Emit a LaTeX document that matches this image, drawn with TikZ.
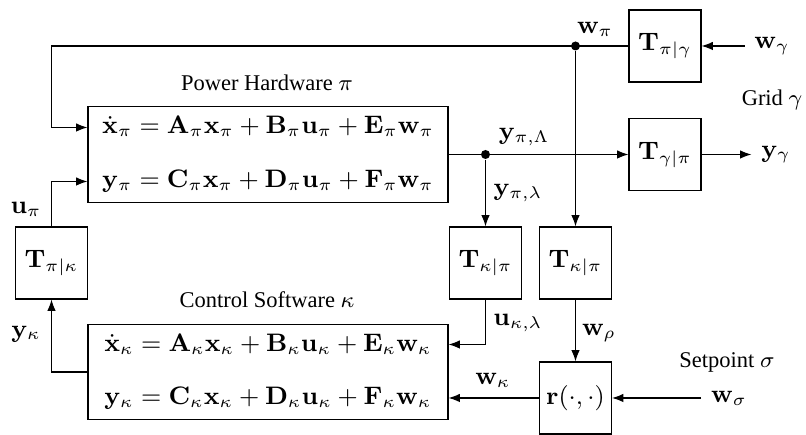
\documentclass[tikz,border=0pt]{standalone}
\usepackage[no-math]{fontspec}
\setmainfont{Liberation Serif}
\usepackage{amsmath}
\usetikzlibrary{arrows.meta,calc}
\tikzset{
  block/.style={draw,minimum width=0.9cm,minimum height=0.9cm,align=center,inner sep=1pt},
  system/.style={draw,minimum width=4.5cm,minimum height=1.14cm,align=center,inner sep=2pt,
    font=\fontsize{9.2}{11}\selectfont},
  caption/.style={font=\footnotesize},
  arrow/.style={-{Latex[length=4pt,width=3pt]}},
  junction/.style={circle,fill,inner sep=0pt,minimum size=3.2pt}
}

\begin{document}
\begin{tikzpicture}[x=0.125cm,y=0.125cm,font=\fontsize{9}{11}\selectfont]
        \useasboundingbox (0,0) rectangle (80.6,43.5);
        % systems
        \node[system] (ph) at (26.8,28.05) {$\begin{aligned}
            \dot{\mathbf{x}}_\pi &= \mathbf{A}_\pi\mathbf{x}_\pi+\mathbf{B}_\pi\mathbf{u}_\pi+\mathbf{E}_\pi\mathbf{w}_\pi\\[5pt]
            \mathbf{y}_\pi &= \mathbf{C}_\pi\mathbf{x}_\pi+\mathbf{D}_\pi\mathbf{u}_\pi+\mathbf{F}_\pi\mathbf{w}_\pi
          \end{aligned}$};
        \node[system] (cs) at (26.8,6.3) {$\begin{aligned}
            \dot{\mathbf{x}}_\kappa &= \mathbf{A}_\kappa\mathbf{x}_\kappa+\mathbf{B}_\kappa\mathbf{u}_\kappa+\mathbf{E}_\kappa\mathbf{w}_\kappa\\[5pt]
            \mathbf{y}_\kappa &= \mathbf{C}_\kappa\mathbf{x}_\kappa+\mathbf{D}_\kappa\mathbf{u}_\kappa+\mathbf{F}_\kappa\mathbf{w}_\kappa
          \end{aligned}$};
        \node[caption] (phlabel) at (26.7,35.2) {Power Hardware $\pi$};
        \node[caption] (cslabel) at (26.7,13.5) {Control Software $\kappa$};
        % transformation blocks
        \node[block] (tpk) at (5.15,17.2) {$\mathbf{T}_{\pi|\kappa}$};
        \node[block] (tkp1) at (48.55,17.2) {$\mathbf{T}_{\kappa|\pi}$};
        \node[block] (tkp2) at (57.55,17.2) {$\mathbf{T}_{\kappa|\pi}$};
        \node[block] (rfun) at (57.55,3.7) {$\mathbf{r}(\cdot,\cdot)$};
        \node[block] (tpg) at (66.5,38.9) {$\mathbf{T}_{\pi|\gamma}$};
        \node[block] (tgp) at (66.5,28.05) {$\mathbf{T}_{\gamma|\pi}$};
        % outer signals
        \node (wg) at (77.2,38.9) {$\mathbf{w}_\gamma$};
        \node (yg) at (77.6,28.05) {$\mathbf{y}_\gamma$};
        \node (ws) at (72.9,3.7) {$\mathbf{w}_\sigma$};
        \node[caption] (gridlabel) at (77.2,33.5) {Grid $\gamma$};
        \node[caption] (splabel) at (72.7,7.3) {Setpoint $\sigma$};
        % junctions
        \node[junction] (jw) at (tpg.west -| tkp2) {};
        \node[junction] (jy) at (ph.east -| tkp1) {};
        % connectors
        \draw[arrow] (tpg.west) -- (tpg.west -| tpk) |- ($(ph.west)+(0,2.7)$);
        \draw[arrow] (jw) -- (tkp2.north);
        \draw[arrow] (tpk.north) |- ($(ph.west)+(0,-2.7)$);
        \draw[arrow] (cs.west) -| (tpk.south);
        \draw[arrow] (ph.east) -- (tgp.west);
        \draw[arrow] (jy) -- (tkp1.north);
        \draw[arrow] (tkp1.south) |- ($(cs.east)+(0,2.75)$);
        \draw[arrow] (tkp2.south) -- (rfun.north);
        \draw[arrow] (rfun.west) -- (rfun.west -| cs.east);
        \draw[arrow] (tgp.east) -- (yg.west);
        \draw[arrow] (wg.west) -- (tpg.east);
        \draw[arrow] (ws.west) -- (rfun.east);
        % signal labels
        \node at (59.5,40.6) {$\mathbf{w}_\pi$};
        \node at (52.4,29.8) {$\mathbf{y}_{\pi,\Lambda}$};
        \node at (51.8,24.2) {$\mathbf{y}_{\pi,\lambda}$};
        \node at (51.8,11.2) {$\mathbf{u}_{\kappa,\lambda}$};
        \node at (59.9,10.2) {$\mathbf{w}_\rho$};
        \node at (49.3,5.5) {$\mathbf{w}_\kappa$};
        \node at (2.6,22.6) {$\mathbf{u}_\pi$};
        \node at (2.6,10.1) {$\mathbf{y}_\kappa$};
      \end{tikzpicture}
\end{document}
